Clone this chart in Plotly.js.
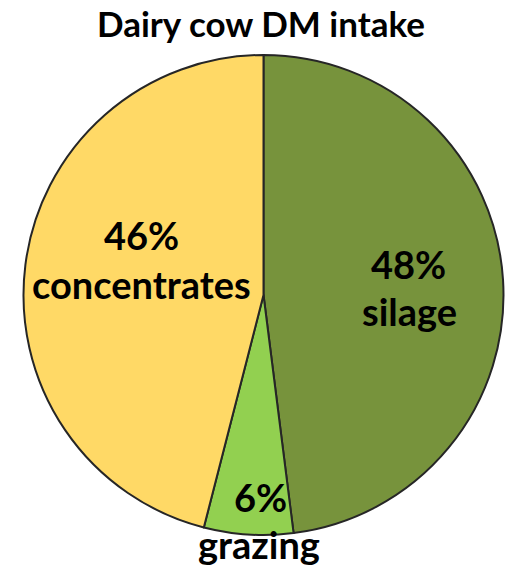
<!DOCTYPE html>
<html>
<head>
<meta charset="utf-8">
<script src="https://cdn.plot.ly/plotly-3.0.1.min.js"></script>
<style>
  html, body { margin: 0; padding: 0; background: #ffffff; }
  #chart { width: 508px; height: 568px; }
</style>
</head>
<body>
<div id="chart"></div>
<script>
// Share of dry-matter intake by feed source
const feedLabels = ['silage', 'grazing', 'concentrates'];
const feedShares = [48, 6, 46];
const feedColors = ['#77933C', '#92D050', '#FFD966'];

const W = 508, H = 568;
const FONT = 'Lato, "Open Sans", sans-serif';
const LABEL_SIZE = 38;

// Label anchor points (pixels) for each slice: [percent block, name block]
const labelSpots = {
  silage:       { pct: [408, 264], name: [409, 311] },
  concentrates: { pct: [141, 235], name: [141, 284] },
  grazing:      { pct: [260, 497], name: [259, null] }
};

const px = (x) => x / W;
const py = (y) => 1 - y / H;

const annotations = [];
feedLabels.forEach((name, i) => {
  const spot = labelSpots[name];
  annotations.push({
    text: '<b>' + feedShares[i] + '%</b>',
    x: px(spot.pct[0]), y: py(spot.pct[1]),
    xref: 'paper', yref: 'paper',
    xanchor: 'center', yanchor: 'middle',
    showarrow: false,
    font: { family: FONT, size: LABEL_SIZE, color: '#000000' }
  });
  // a null y puts the name underneath the pie, resting on the bottom edge
  const below = spot.name[1] === null;
  annotations.push({
    text: '<b>' + name + '</b>',
    x: px(spot.name[0]), y: below ? 0 : py(spot.name[1]),
    xref: 'paper', yref: 'paper',
    xanchor: 'center', yanchor: below ? 'bottom' : 'middle',
    borderpad: 0,
    showarrow: false,
    font: { family: FONT, size: LABEL_SIZE, color: '#000000' }
  });
});

const trace = {
  type: 'pie',
  labels: feedLabels,
  values: feedShares,
  sort: false,
  direction: 'clockwise',
  rotation: 0,
  textinfo: 'none',
  hoverinfo: 'label+percent',
  showlegend: false,
  marker: { colors: feedColors, line: { color: '#262626', width: 2 } },
  domain: { x: [23.5 / W, 503.5 / W], y: [33 / H, 513 / H] }
};

const layout = {
  width: W,
  height: H,
  margin: { l: 0, r: 0, t: 0, b: 0 },
  paper_bgcolor: '#ffffff',
  title: {
    text: '<b>Dairy cow DM intake</b>',
    x: 261 / W, xanchor: 'center',
    y: 1 - 25 / H, yanchor: 'middle',
    font: { family: FONT, size: 35, color: '#000000' }
  },
  annotations: annotations
};

Plotly.newPlot('chart', [trace], layout, { displayModeBar: false, staticPlot: true });
</script>
</body>
</html>
